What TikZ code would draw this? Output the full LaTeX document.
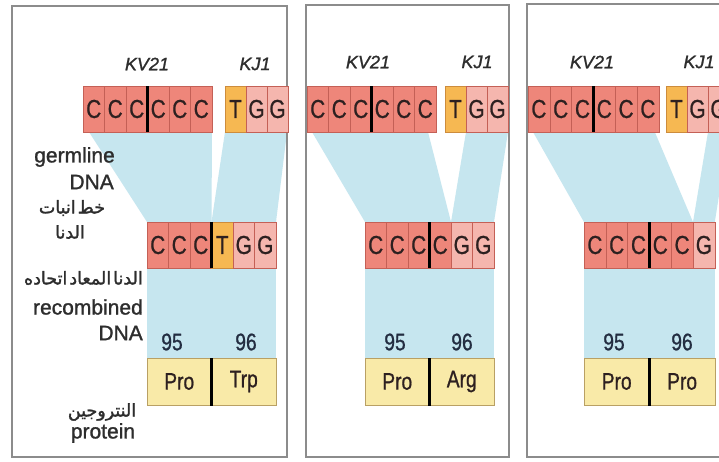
\documentclass[tikz,border=0pt]{standalone}
\usepackage{fontspec}
\setmainfont{Liberation Sans}
\newfontfamily\labfont[FakeBold=1.2]{Liberation Sans}
\newfontfamily\condfont[FakeStretch=0.8,FakeBold=0.8]{Liberation Sans}
\newfontfamily\arabicfont[Script=Arabic,FakeBold=1.5]{DejaVu Sans}
\TeXXeTstate=1
\usetikzlibrary{backgrounds}

\definecolor{vred}{RGB}{238,134,122}
\definecolor{vline}{RGB}{196,96,86}
\definecolor{torange}{RGB}{246,184,82}
\definecolor{tline}{RGB}{205,140,60}
\definecolor{gpink}{RGB}{245,182,174}
\definecolor{bandblue}{RGB}{198,230,239}
\definecolor{protfill}{RGB}{249,234,168}
\definecolor{protline}{RGB}{185,160,100}
\definecolor{framegray}{RGB}{140,140,140}
\definecolor{labeltext}{RGB}{45,45,45}
\definecolor{basetext}{RGB}{45,32,32}
\definecolor{numtext}{RGB}{35,45,65}

\tikzset{
  cell/.style={draw=vline, line width=0.6pt, minimum height=46pt, minimum width=21.5pt,
    inner sep=0pt, outer sep=0pt, anchor=north west, text=basetext,
    font=\condfont\fontsize{26}{26}\selectfont},
  vcell/.style={cell, fill=vred},
  tcell/.style={cell, fill=torange, draw=tline},
  gcell/.style={cell, fill=gpink},
  aacell/.style={draw=protline, fill=protfill, line width=0.6pt, minimum height=47pt,
    minimum width=64.5pt, inner sep=0pt, outer sep=0pt, anchor=north west, text=basetext,
    font=\condfont\fontsize{24}{24}\selectfont},
  seg/.style={font=\labfont\itshape\fontsize{18}{18}\selectfont, text=labeltext, inner sep=0pt},
  lab/.style={font=\labfont\fontsize{21}{21}\selectfont, text=labeltext, inner sep=0pt},
  arab/.style={font=\arabicfont\fontsize{17.5}{17.5}\selectfont, text=labeltext, inner sep=0pt},
  num/.style={font=\condfont\fontsize{24}{24}\selectfont, text=numtext, inner sep=0pt},
  codonbreak/.style={line width=3pt, black},
  band/.style={fill=bandblue},
  panel/.style={draw=framegray, line width=1.6pt},
}

\begin{document}
\begin{tikzpicture}[x=1pt, y=-1pt]
\useasboundingbox (0,0) rectangle (719,461);
\clip (0,0) rectangle (719,461);

% panel frames
\draw[panel] (12,6) rectangle (287,457);
\draw[panel] (306,5) rectangle (509,457);
\draw[panel] (527,4) rectangle (745,457);

% ---------------- panel 1 ----------------
\node[seg] (p1kv) at (147,64) {KV21};
\node[seg] (p1kj) at (255,64) {KJ1};
\node[vcell] (p1v1) at (83,86) {C};
\node[vcell] (p1v2) at (p1v1.north east) {C};
\node[vcell] (p1v3) at (p1v2.north east) {C};
\node[vcell] (p1v4) at (p1v3.north east) {C};
\node[vcell] (p1v5) at (p1v4.north east) {C};
\node[vcell] (p1v6) at (p1v5.north east) {C};
\draw[codonbreak] (p1v3.north east) -- (p1v3.south east);
\node[tcell, minimum width=21pt] (p1j1) at (225,86) {T};
\node[gcell, minimum width=21pt] (p1j2) at (p1j1.north east) {G};
\node[gcell, minimum width=21pt] (p1j3) at (p1j2.north east) {G};

\node[vcell] (p1r1) at (147,222) {C};
\node[vcell] (p1r2) at (p1r1.north east) {C};
\node[vcell] (p1r3) at (p1r2.north east) {C};
\node[tcell] (p1r4) at (p1r3.north east) {T};
\node[gcell] (p1r5) at (p1r4.north east) {G};
\node[gcell] (p1r6) at (p1r5.north east) {G};
\draw[codonbreak] (p1r3.north east) -- (p1r3.south east);

\node[num] (p1n1) at (172,342) {95};
\node[num] (p1n2) at (246,342) {96};
\node[aacell] (p1a1) at (147,358) {Pro};
\node[aacell] (p1a2) at (p1a1.north east) {Trp};
\draw[codonbreak] (p1a1.north east) -- ([yshift=-1pt]p1a1.south east);

\node[lab, anchor=east] (p1l1) at (115,157) {germline};
\node[lab, anchor=east] (p1l2) at (114,182) {DNA};
\node[arab] (p1l3) at (72,208) {\beginR خط\hspace{2pt}انبات\endR};
\node[arab] (p1l4) at (70,232) {\beginR الدنا\endR};
\node[arab, anchor=east] (p1l5) at (143,278) {\beginR الدنا\hspace{2pt}المعاد\hspace{2pt}اتحاده\endR};
\node[lab, anchor=east] (p1l6) at (143,307) {recombined};
\node[lab, anchor=east] (p1l7) at (143,333) {DNA};
\node[arab] (p1l8) at (102,412) {\beginR النتروجين\endR};
\node[lab] (p1l9) at (103,433) {protein};

% ---------------- panel 2 ----------------
\node[seg] (p2kv) at (368,62) {KV21};
\node[seg] (p2kj) at (477,62) {KJ1};
\node[vcell] (p2v1) at (307,86) {C};
\node[vcell] (p2v2) at (p2v1.north east) {C};
\node[vcell] (p2v3) at (p2v2.north east) {C};
\node[vcell] (p2v4) at (p2v3.north east) {C};
\node[vcell] (p2v5) at (p2v4.north east) {C};
\node[vcell] (p2v6) at (p2v5.north east) {C};
\draw[codonbreak] (p2v3.north east) -- (p2v3.south east);
\node[tcell, minimum width=21pt] (p2j1) at (445,86) {T};
\node[gcell, minimum width=21pt] (p2j2) at (p2j1.north east) {G};
\node[gcell, minimum width=21pt] (p2j3) at (p2j2.north east) {G};

\node[vcell] (p2r1) at (365,222) {C};
\node[vcell] (p2r2) at (p2r1.north east) {C};
\node[vcell] (p2r3) at (p2r2.north east) {C};
\node[vcell] (p2r4) at (p2r3.north east) {C};
\node[gcell] (p2r5) at (p2r4.north east) {G};
\node[gcell] (p2r6) at (p2r5.north east) {G};
\draw[codonbreak] (p2r3.north east) -- (p2r3.south east);

\node[num] (p2n1) at (395,342) {95};
\node[num] (p2n2) at (462,342) {96};
\node[aacell] (p2a1) at (365,358) {Pro};
\node[aacell] (p2a2) at (p2a1.north east) {Arg};
\draw[codonbreak] (p2a1.north east) -- ([yshift=-1pt]p2a1.south east);

% ---------------- panel 3 ----------------
\node[seg] (p3kv) at (592,62) {KV21};
\node[seg] (p3kj) at (699,62) {KJ1};
\node[vcell, minimum width=21.8pt] (p3v1) at (528,86) {C};
\node[vcell, minimum width=21.8pt] (p3v2) at (p3v1.north east) {C};
\node[vcell, minimum width=21.8pt] (p3v3) at (p3v2.north east) {C};
\node[vcell, minimum width=21.8pt] (p3v4) at (p3v3.north east) {C};
\node[vcell, minimum width=21.8pt] (p3v5) at (p3v4.north east) {C};
\node[vcell, minimum width=21.8pt] (p3v6) at (p3v5.north east) {C};
\draw[codonbreak] (p3v3.north east) -- (p3v3.south east);
\node[tcell, minimum width=21pt] (p3j1) at (666,86) {T};
\node[gcell, minimum width=21pt] (p3j2) at (p3j1.north east) {G};
\node[gcell, minimum width=21pt] (p3j3) at (p3j2.north east) {G};

\node[vcell, minimum width=21.8pt] (p3r1) at (584,222) {C};
\node[vcell, minimum width=21.8pt] (p3r2) at (p3r1.north east) {C};
\node[vcell, minimum width=21.8pt] (p3r3) at (p3r2.north east) {C};
\node[vcell, minimum width=21.8pt] (p3r4) at (p3r3.north east) {C};
\node[vcell, minimum width=21.8pt] (p3r5) at (p3r4.north east) {C};
\node[gcell, minimum width=21.8pt] (p3r6) at (p3r5.north east) {G};
\draw[codonbreak] (p3r3.north east) -- (p3r3.south east);

\node[num] (p3n1) at (614,342) {95};
\node[num] (p3n2) at (682,342) {96};
\node[aacell, minimum width=65.4pt] (p3a1) at (584,358) {Pro};
\node[aacell, minimum width=65.4pt] (p3a2) at (p3a1.north east) {Pro};
\draw[codonbreak] (p3a1.north east) -- ([yshift=-1pt]p3a1.south east);

% ---------------- joining bands ----------------
\begin{scope}[on background layer]
  \fill[white] (0,0) rectangle (719,461);
  % panel 1
  \fill[band] ([xshift=6pt]p1v1.south west) -- (p1v6.south east)
              -- (p1r3.north east) -- (p1r1.north west) -- cycle;
  \fill[band] (p1j1.south west) -- ([xshift=-1pt]p1j3.south east)
              -- (p1r6.north east) -- (p1r4.north west) -- cycle;
  \fill[band] (p1r1.south west) rectangle (p1a2.north east);
  % panel 2
  \fill[band] ([xshift=5pt]p2v1.south west) -- ([xshift=-8pt]p2v6.south east)
              -- (p2r4.north east) -- (p2r1.north west) -- cycle;
  \fill[band] (p2j2.south west) -- (p2j3.south east)
              -- (p2r6.north east) -- (p2r5.north west) -- cycle;
  \fill[band] (p2r1.south west) rectangle (p2a2.north east);
  % panel 3
  \fill[band] ([xshift=5pt]p3v1.south west) -- ([xshift=-4pt]p3v6.south east)
              -- (p3r5.north east) -- (p3r1.north west) -- cycle;
  \fill[band] (p3j3.south west) -- (p3j3.south east)
              -- (p3r6.north east) -- (p3r6.north west) -- cycle;
  \fill[band] (p3r1.south west) rectangle (p3a2.north east);
\end{scope}
\end{tikzpicture}
\end{document}
